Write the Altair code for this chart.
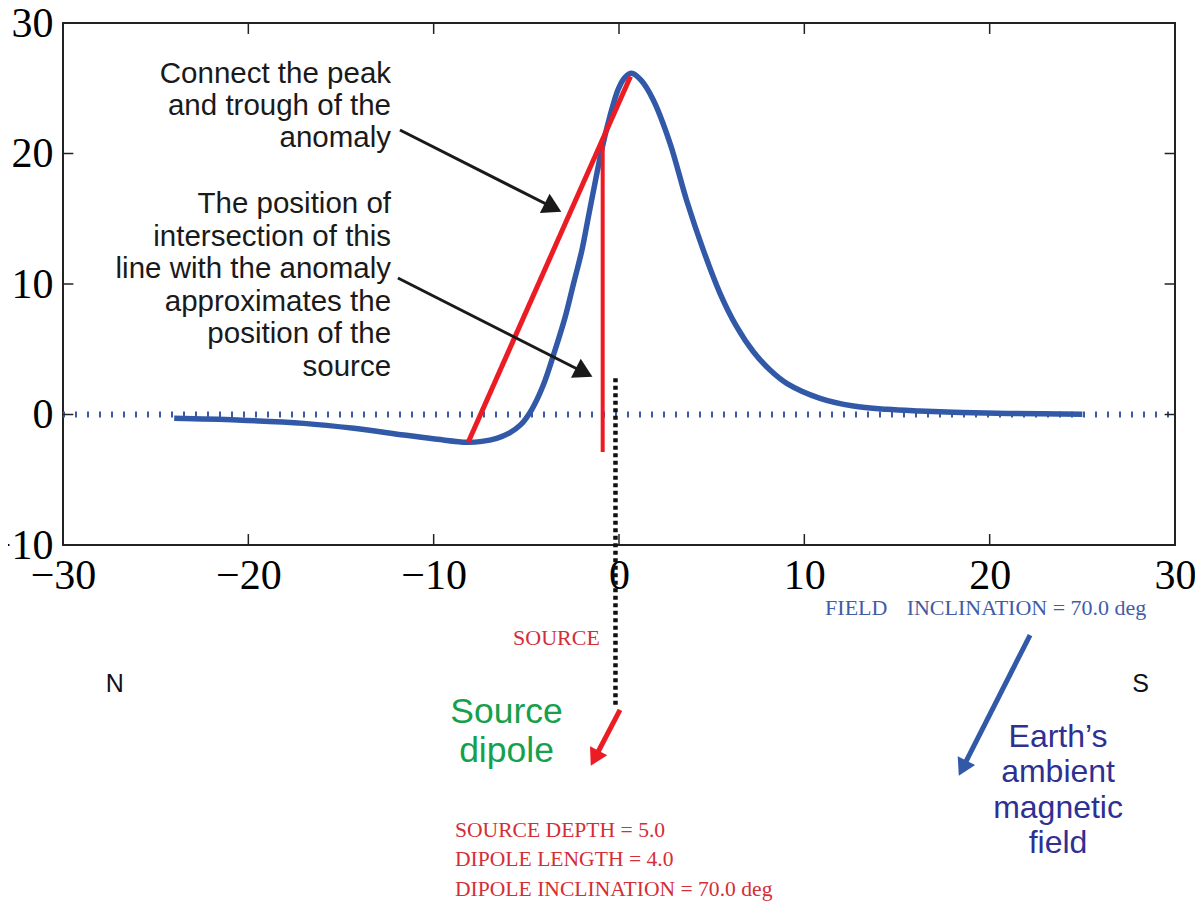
import altair as alt
import pandas as pd

# ---- data ----
curve_x = [-24.0, -20.6, -17.0, -14.3, -11.6, -9.8, -8.2, -7.4, -6.6, -5.9, -5.3, -4.7, -4.1,
           -3.45, -2.9, -2.45, -2.0, -1.65, -1.3, -0.93, -0.5, -0.05, 0.3, 0.68, 1.2,
           1.85, 2.75, 3.65, 4.55, 5.45, 6.35, 7.25, 8.15, 9.05, 10.85, 12.65, 14.45,
           16.2, 18.5, 21.0, 25.0]
curve_y = [-0.29, -0.42, -0.68, -1.06, -1.57, -1.90, -2.13, -2.06, -1.82, -1.40, -0.78, 0.40, 2.2,
           4.94, 7.49, 10.05, 12.6, 15.16, 17.7, 20.3, 22.8, 24.9, 25.8, 26.15, 25.6,
           24.1, 20.8, 16.4, 12.6, 9.29, 6.73, 4.81, 3.41, 2.39, 1.24, 0.65, 0.40,
           0.27, 0.15, 0.08, 0.02]

peak_trough_x = [-8.13, 0.62]
peak_trough_y = [-2.1, 25.9]

source_line_x = [-0.88]
source_line_y = [20.65]
source_line_y2 = [-2.87]

dipole_x = [-0.19]
dipole_y = [2.77]
dipole_y2 = [-22.25]

x_ticks = [-30, -20, -10, 0, 10, 20, 30]
y_ticks = [-10, 0, 10, 20, 30]
inner_x_ticks = [-20, -10, 0, 10, 20]
inner_y_ticks = [0, 10, 20]

# arrows: start, head centre, angle (deg), colour, width, head size
arrow_x = [-11.82, -11.93, 0.054, 22.18]
arrow_y = [21.80, 10.46, -22.64, -16.90]
arrow_x2 = [-3.56, -1.88, -1.31, 18.54]
arrow_y2 = [15.86, 3.22, -26.34, -27.10]
arrow_angle = [26.85, 26.9, 117.8, 116.9]
arrow_color = ["#1a1a1a", "#1a1a1a", "#ec1c24", "#3159a8"]
arrow_width = [3, 3, 5, 5]
arrow_head = [460, 460, 380, 380]

BLUE = "#3159a8"
RED = "#ec1c24"
RED_TXT = "#d42e36"
BLUE_TXT = "#3f5da6"
GREEN = "#17a04c"
INDIGO = "#2e3092"

xs = alt.Scale(domain=[-30, 30], nice=False, zero=False)
ys = alt.Scale(domain=[-10, 30], nice=False, zero=False)
xax = alt.Axis(values=x_ticks, ticks=False, domain=False, grid=False,
               labelFont="Liberation Serif", labelFontSize=42, labelColor="black",
               labelPadding=10, title=None, labelFlush=False, labelOverlap=False)
yax = alt.Axis(values=y_ticks, ticks=False, domain=False, grid=False,
               labelFont="Liberation Serif", labelFontSize=42, labelColor="black",
               labelPadding=10, title=None, labelFlush=False, labelOverlap=False)


def X(f="x"):
    return alt.X(f"{f}:Q", scale=xs, axis=xax)


def Y(f="y"):
    return alt.Y(f"{f}:Q", scale=ys, axis=yax)


# zero reference line
zero_df = pd.DataFrame({"x": [-30], "x2": [30], "y": [0]})
zero_line = alt.Chart(zero_df).mark_rule(color="#3a5aa5", strokeWidth=6, strokeDash=[2, 10]).encode(
    x=X(), x2="x2:Q", y=Y())

curve_df = pd.DataFrame({"x": curve_x, "y": curve_y})
curve = alt.Chart(curve_df).mark_line(color=BLUE, strokeWidth=5.5, interpolate="catmull-rom").encode(
    x=X(), y=Y())

pt_df = pd.DataFrame({"x": peak_trough_x, "y": peak_trough_y})
pt_line = alt.Chart(pt_df).mark_line(color=RED, strokeWidth=5).encode(x=X(), y=Y())

sl_df = pd.DataFrame({"x": source_line_x, "y": source_line_y, "y2": source_line_y2})
sl_line = alt.Chart(sl_df).mark_rule(color=RED, strokeWidth=4).encode(x=X(), y=Y(), y2="y2:Q")

dp_df = pd.DataFrame({"x": dipole_x, "y": dipole_y, "y2": dipole_y2})
dp_line = alt.Chart(dp_df).mark_rule(color="#111111", strokeWidth=4.5, strokeDash=[4, 3.5]).encode(
    x=X(), y=Y(), y2="y2:Q")

# inward ticks on the frame
tick_rows = []
for v in inner_x_ticks:
    tick_rows.append({"x": v, "x2": v, "y": -10, "y2": -10 + 0.84})
    tick_rows.append({"x": v, "x2": v, "y": 30, "y2": 30 - 0.84})
for v in inner_y_ticks:
    tick_rows.append({"x": -30, "x2": -30 + 0.56, "y": v, "y2": v})
    tick_rows.append({"x": 30, "x2": 30 - 0.56, "y": v, "y2": v})
ticks = alt.Chart(pd.DataFrame(tick_rows)).mark_rule(color="#222222", strokeWidth=1.5).encode(
    x=X(), x2="x2:Q", y=Y(), y2="y2:Q")

# arrows
arr_df = pd.DataFrame({"x": arrow_x, "y": arrow_y, "x2": arrow_x2, "y2": arrow_y2,
                       "a": arrow_angle, "c": arrow_color, "w": arrow_width, "s": arrow_head})
shafts = alt.Chart(arr_df).mark_rule().encode(
    x=X(), y=Y(), x2="x2:Q", y2="y2:Q",
    color=alt.Color("c:N", scale=None), strokeWidth=alt.StrokeWidth("w:Q", scale=None))
heads = alt.Chart(arr_df).mark_point(filled=True, shape="triangle-right", opacity=1).encode(
    x=alt.X("x2:Q", scale=xs, axis=xax), y=alt.Y("y2:Q", scale=ys, axis=yax),
    angle=alt.Angle("a:Q", scale=None), color=alt.Color("c:N", scale=None),
    size=alt.Size("s:Q", scale=None))


def text_layer(txt, x, y, align, font, size, color, line_height=None):
    df = pd.DataFrame({"x": [x], "y": [y], "t": [txt]})
    kw = dict(align=align, baseline="alphabetic", font=font, fontSize=size, color=color,
              lineBreak="\n")
    if line_height:
        kw["lineHeight"] = line_height
    return alt.Chart(df).mark_text(**kw).encode(x=X(), y=Y(), text="t:N")


SANS = "Liberation Sans"
SERIF = "Liberation Serif"

texts = [
    text_layer("Connect the peak\nand trough of the\nanomaly", -12.30, 25.40, "right", SANS, 29.5,
               "#1a1a1a", 32),
    text_layer("The position of\nintersection of this\nline with the anomaly\napproximates the\n"
               "position of the\nsource", -12.30, 15.44, "right", SANS, 29.5, "#1a1a1a", 32.6),
    text_layer("SOURCE", -1.03, -17.66, "right", SERIF, 22, RED_TXT),
    text_layer("FIELD", 11.12, -15.36, "left", SERIF, 22, BLUE_TXT),
    text_layer("INCLINATION = 70.0 deg", 15.52, -15.36, "left", SERIF, 22, BLUE_TXT),
    text_layer("N", -27.2, -21.24, "center", SANS, 25, "#111111"),
    text_layer("S", 28.14, -21.24, "center", SANS, 25, "#111111"),
    text_layer("Source\ndipole", -6.07, -23.66, "center", SANS, 35.5, GREEN, 39),
    text_layer("SOURCE DEPTH = 5.0\nDIPOLE LENGTH = 4.0\nDIPOLE INCLINATION = 70.0 deg",
               -8.85, -32.35, "left", SERIF, 21.6, RED_TXT, 29.5),
    text_layer("Earth\u2019s\nambient\nmagnetic\nfield", 23.69, -25.46, "center", SANS, 32,
               INDIGO, 35.4),
]

chart = alt.layer(zero_line, curve, pt_line, sl_line, dp_line, ticks, shafts, heads, *texts).properties(
    width=1112, height=522,
    autosize=alt.AutoSizeParams(type="none"),
    padding={"left": 55, "top": 15, "right": 20, "bottom": 356},
).configure(background="white").configure_view(stroke="#222222", strokeWidth=2)

chart.save("out.html", embed_options={"renderer": "svg", "actions": False})
